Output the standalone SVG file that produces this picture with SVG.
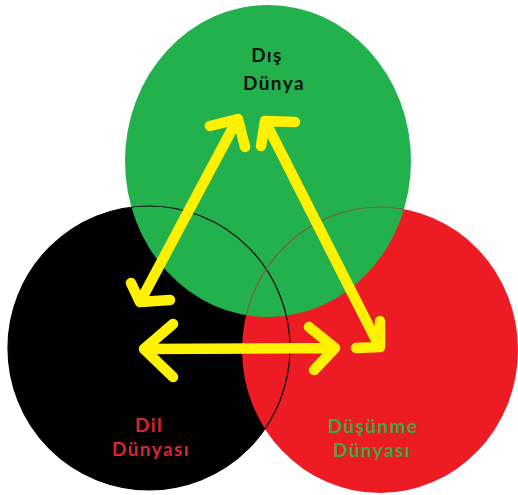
<svg xmlns="http://www.w3.org/2000/svg" width="518" height="495" viewBox="0 0 518 495">
<style>
.lbl{font-family:Lato,"Open Sans",sans-serif;font-weight:bold;font-size:19px;letter-spacing:1.4px;text-anchor:middle}
.arrow{fill:none;stroke:#FFF200;stroke-width:10.5;stroke-linecap:round;stroke-linejoin:round}
.outline{fill:none;stroke-width:1.2}
</style>
<defs>
<clipPath id="inGreen"><ellipse cx="268" cy="161" rx="143" ry="156"/></clipPath>
</defs>
<rect width="518" height="495" fill="#fff"/>
<g id="node-dil">
<ellipse cx="149" cy="348" rx="141" ry="142" fill="#000"/>
<text class="lbl" x="149" y="432" fill="#D9262E">Dil</text>
<text class="lbl" x="151" y="456" fill="#D9262E">Dünyası</text>
</g>
<g id="node-dusunme">
<ellipse cx="380" cy="350" rx="138" ry="143" fill="#ED1C24"/>
<text class="lbl" x="373" y="433" fill="#3FA548">Düşünme</text>
<text class="lbl" x="372" y="457" fill="#3FA548">Dünyası</text>
</g>
<g id="node-dis">
<ellipse cx="268" cy="161" rx="143" ry="156" fill="#22B14C"/>
<text class="lbl" x="267" y="62" fill="#111">Dış</text>
<text class="lbl" x="274" y="90" fill="#111">Dünya</text>
</g>
<g id="outlines">
<ellipse class="outline" cx="149" cy="348" rx="141" ry="142" stroke="#000"/>
<ellipse class="outline" cx="380" cy="350" rx="138" ry="143" stroke="#7E5C3E" clip-path="url(#inGreen)"/>
</g>
<g id="connectors">
<path class="arrow" d="M140,302 L237,120 M210,126 L238,119 L245,147 M131,283 L140,302 L170,300"/>
<path class="arrow" d="M265,121 L379,346 M261,146 L265,121 L295,122 M380,321 L380,347 L356,348"/>
<path class="arrow" d="M144,349 L335,348 M173,324 L144,349 L173,377 M309,327 L335,348 L314,370"/>
</g>
</svg>
